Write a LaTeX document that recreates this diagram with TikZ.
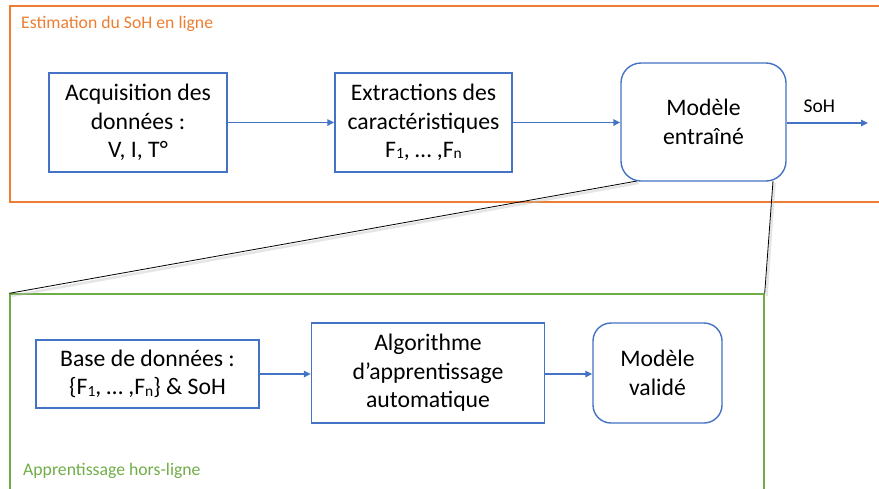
\documentclass[tikz,border=0pt]{standalone}
\usepackage{fontspec}
\setmainfont{Carlito}
\usetikzlibrary{arrows.meta}
\definecolor{oblue}{HTML}{4472C4}
\definecolor{oorange}{HTML}{ED7D31}
\definecolor{ogreen}{HTML}{70AD47}
\newcommand{\sub}[1]{\raisebox{-1.2pt}{\fontsize{15.5}{15.5}\selectfont #1}}
\tikzset{
  x=1pt, y=-1pt,
  mainfont/.style={font=\fontsize{23.7}{28.5}\selectfont},
  sqbox/.style={draw=oblue, line width=1.4pt, fill=white, inner sep=0pt, align=center, mainfont},
  rbox/.style={sqbox, rounded corners=20pt},
  frameO/.style={draw=oorange, line width=1.4pt, inner sep=0pt},
  frameG/.style={draw=ogreen, line width=1.4pt, inner sep=0pt},
  arr/.style={draw=oblue, line width=1.5pt, -{Triangle[length=7pt,width=6.5pt]}},
  callout/.style={draw=black, line width=0.8pt},
  shadowline/.style={draw=black!25, line width=2.5pt, opacity=0.4},
  framelabel/.style={font=\fontsize{17.7}{20}\selectfont, anchor=west, inner sep=0pt}
}
\begin{document}
\begin{tikzpicture}
\useasboundingbox (0,0) rectangle (879,488);
\clip (0,0) rectangle (879,488);
% frames
\node[frameO, minimum width=872pt, minimum height=196pt] (O) at (446,104) {};
\node[frameG, minimum width=754pt, minimum height=210pt] (G) at (387,399) {};
\node[framelabel, text=oorange] (Ol) at (21,24) {Estimation du SoH en ligne};
\node[framelabel, text=ogreen] (Gl) at (23,471) {Apprentissage hors-ligne};
% callout lines
\coordinate (cl) at (637,181);
\coordinate (cr) at (773,181);
\begin{scope}[shift={(1.5,2)}]
\draw[shadowline] (637,181) -- (10,294);
\draw[shadowline] (773,181) -- (765,294);
\end{scope}
\draw[callout] (cl) -- (G.north west);
\draw[callout] (cr) -- (G.north east);
% top row
\node[sqbox, minimum width=178pt, minimum height=99pt] (A) at (138,122.5) {Acquisition des\\données :\\V, I, T°};
\node[sqbox, minimum width=177pt, minimum height=99pt] (B) at (423.5,122.5) {Extractions des\\caractéristiques\\F\sub{1}, … ,F\sub{n}};
\node[rbox, minimum width=165pt, minimum height=118pt] (C) at (703.5,122) {Modèle\\entraîné};
\coordinate (out) at (868,123);
\draw[arr] (A.east) -- (B.west);
\draw[arr] (B.east) -- (C.west |- B.east);
\draw[arr] (C.east |- out) -- node[above=10pt, xshift=-8pt, font=\fontsize{19.5}{21}\selectfont, inner sep=0pt] (soh) {SoH} (out);
% bottom row
\node[sqbox, minimum width=223pt, minimum height=68pt] (D) at (147.5,374) {Base de données :\\\{F\sub{1}, … ,F\sub{n}\} \& SoH};
\node[sqbox, minimum width=233pt, minimum height=100pt] (E) at (428,373) {Algorithme\\d’apprentissage\\automatique};
\node[rbox, rounded corners=18pt, minimum width=129pt, minimum height=100pt] (F) at (657.5,373) {Modèle\\validé};
\draw[arr] (D.east) -- (E.west |- D.east);
\draw[arr] (E.east |- D.east) -- (F.west |- D.east);
\end{tikzpicture}
\end{document}
